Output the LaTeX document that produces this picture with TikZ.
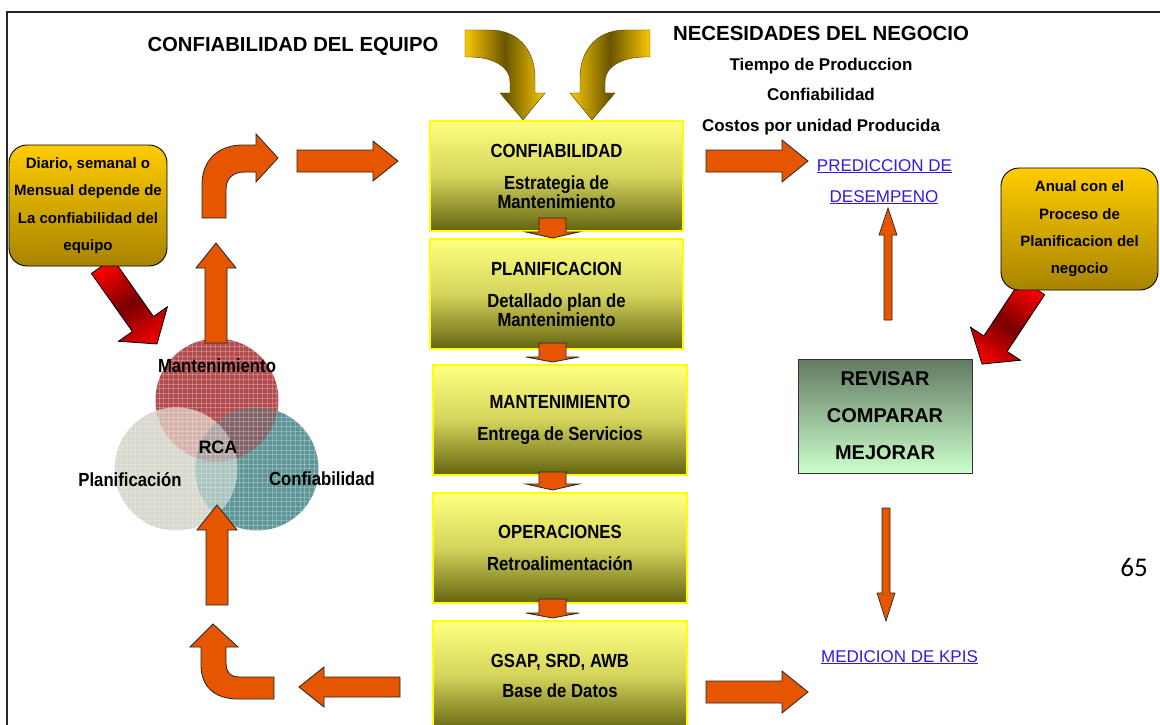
\documentclass[tikz,border=0pt]{standalone}
\usepackage{fontspec}
\setmainfont{Liberation Sans}
\newfontfamily\narrowsans[FakeStretch=0.88]{Liberation Sans}
\newfontfamily\pagenumfont{Carlito}

% palette
\definecolor{orng}{RGB}{230,85,0}
\definecolor{stagetop}{RGB}{255,255,128}
\definecolor{stagemid}{RGB}{212,212,92}
\definecolor{stagebot}{RGB}{100,100,16}
\definecolor{stageedge}{RGB}{255,255,0}
\definecolor{goldtop}{RGB}{255,204,0}
\definecolor{goldbot}{RGB}{168,132,0}
\definecolor{goldlight}{RGB}{250,200,0}
\definecolor{golddark}{RGB}{105,85,0}
\definecolor{reddark}{RGB}{120,0,0}
\definecolor{greentop}{RGB}{98,122,98}
\definecolor{greenbot}{RGB}{204,255,204}
\definecolor{linkblue}{RGB}{51,25,230}
\definecolor{vennred}{RGB}{178,76,78}
\definecolor{venngray}{RGB}{216,216,206}
\definecolor{vennteal}{RGB}{94,150,152}
\definecolor{lensrg}{RGB}{214,178,172}
\definecolor{lensrt}{RGB}{128,98,104}
\definecolor{lensgt}{RGB}{170,196,192}
\definecolor{lensall}{RGB}{176,164,162}

\begin{document}
\begin{tikzpicture}[x=1pt,y=-1pt,
  stagebox/.style={rectangle, draw=stageedge, line width=1.4pt,
    top color=stagetop, bottom color=stagebot, middle color=stagemid,
    minimum width=253pt, minimum height=110pt, inner sep=0pt, align=center,
    font=\narrowsans\bfseries\fontsize{19}{18.5}\selectfont},
  notebox/.style={rectangle, rounded corners=18pt, draw=black, line width=0.9pt,
    top color=goldtop, bottom color=goldbot,
    minimum width=158pt, minimum height=121pt, inner sep=0pt, align=center,
    font=\bfseries\fontsize{15}{27.3}\selectfont},
  reviewbox/.style={rectangle, draw=black!80, line width=1pt,
    top color=greentop, bottom color=greenbot,
    minimum width=174pt, minimum height=114pt, inner sep=0pt, align=center,
    font=\bfseries\fontsize{20}{37}\selectfont},
  blockarrow/.style={fill=orng, draw=black!85, line width=0.8pt, line join=miter},
  goldarrow/.style={left color=goldlight, right color=goldlight, middle color=golddark,
    draw=golddark!70!black, line width=0.4pt},
  redarrow/.style={left color=red, right color=red, middle color=reddark,
    draw=black, line width=0.8pt, line join=miter},
  linktext/.style={text=linkblue, font=\fontsize{17}{20}\selectfont, anchor=base},
  vennlabel/.style={font=\narrowsans\bfseries\fontsize{19}{19}\selectfont, anchor=base},
  gridline/.style={white, opacity=0.25, line width=0.5pt},
]
\useasboundingbox (0,0) rectangle (1160,725);
\fill[white] (0,0) rectangle (1160,725);

% page frame
\draw[line width=1.3pt, black!85] (7,725) -- (7,12) -- (1160,12);

% red diagonal arrows coming out of the notes
\begin{scope}[transform canvas={shift={(102,266)},rotate=-54.8}]
  \draw[redarrow] (0,-13) -- (71,-13) -- (71,-30) -- (95.4,0) -- (71,30) -- (71,13) -- (0,13) -- cycle;
\end{scope}
\begin{scope}[transform canvas={shift={(1033,287)},rotate=-123.5}]
  \draw[redarrow] (0,-14) -- (68,-14) -- (68,-30) -- (92.4,0) -- (68,30) -- (68,14) -- (0,14) -- cycle;
\end{scope}

% notes
\node[notebox] (noteleft) at (88,205.5)
  {Diario, semanal o\\Mensual depende de\\La confiabilidad del\\equipo};
\node[notebox, minimum width=157pt, minimum height=122pt] (noteright) at (1079.5,229)
  {Anual con el\\Proceso de\\Planificacion del\\negocio};

% headings
\node[font=\bfseries\fontsize{20.3}{24}\selectfont] (equipo) at (293,46) {CONFIABILIDAD DEL EQUIPO};
\node[font=\bfseries\fontsize{20.4}{24}\selectfont] (negocio) at (821,33) {NECESIDADES DEL NEGOCIO};
\node[font=\bfseries\fontsize{17}{30.5}\selectfont, align=center] (needs) at (821,96.5)
  {Tiempo de Produccion\\Confiabilidad\\Costos por unidad Producida};

% curved gold arrows feeding the first stage
\draw[goldarrow] (465,30) -- (490,30) .. controls (518,30) and (535,50) .. (535,78)
  -- (535,93) -- (545,93) -- (523,120) -- (500,93) -- (510,93) -- (510,82)
  .. controls (510,65) and (490,57) .. (470,57) -- (465,57) -- cycle;
\draw[goldarrow] (650,30) -- (625,30) .. controls (597,30) and (580,50) .. (580,78)
  -- (580,93) -- (570,93) -- (592,120) -- (615,93) -- (605,93) -- (605,82)
  .. controls (605,65) and (625,57) .. (645,57) -- (650,57) -- cycle;

% central column of stages
\node[stagebox] (s1) at (556.5,176) {CONFIABILIDAD\\[14pt]Estrategia de\\Mantenimiento};
\node[stagebox] (s2) at (556.5,294) {PLANIFICACION\\[14pt]Detallado plan de\\Mantenimiento};
\node[stagebox, minimum width=254pt] (s3) at (560,420) {MANTENIMIENTO\\[13.5pt]Entrega de Servicios};
\node[stagebox, minimum width=254pt] (s4) at (560,548) {OPERACIONES\\[13.5pt]Retroalimentación};
\node[stagebox, minimum width=254pt] (s5) at (560,676) {GSAP, SRD, AWB\\[11.5pt]Base de Datos};

% short arrows between stages
\foreach \t/\b/\p in {218/232/238, 343/357/362, 472/484/490, 599/613/618}
  \draw[blockarrow] (539,\t) -- (539,\b) -- (526,\b) -- (552.5,\p) -- (579,\b) -- (566,\b) -- (566,\t) -- cycle;

% Venn diagram
\coordinate (vm) at (217,400);
\coordinate (vp) at (176,469);
\coordinate (vc) at (257,469);
\fill[vennred] (vm) circle[radius=61.5pt];
\fill[venngray] (vp) circle[radius=61.5pt];
\fill[vennteal] (vc) circle[radius=61.5pt];
\begin{scope}
  \clip (vm) circle[radius=61.5pt];
  \fill[lensrg] (vp) circle[radius=61.5pt];
  \fill[lensrt] (vc) circle[radius=61.5pt];
\end{scope}
\begin{scope}
  \clip (vp) circle[radius=61.5pt];
  \fill[lensgt] (vc) circle[radius=61.5pt];
\end{scope}
\begin{scope}
  \clip (vm) circle[radius=61.5pt];
  \clip (vp) circle[radius=61.5pt];
  \fill[lensall] (vc) circle[radius=61.5pt];
\end{scope}
\begin{scope}
  \clip (vm) circle[radius=61.5pt] (vp) circle[radius=61.5pt] (vc) circle[radius=61.5pt];
  \foreach \k in {0,...,45} {
    \draw[gridline] (112+\k*4.7,335) -- ++(0,200);
    \draw[gridline] (110,337+\k*4.7) -- ++(212,0);
  }
\end{scope}

% loop of orange arrows on the left
\draw[blockarrow] (202,218) -- (202,185) .. controls (202,160) and (218,145) .. (243,145)
  -- (256,145) -- (256,134) -- (278,158) -- (256,182) -- (256,172) -- (245,172)
  .. controls (233,172) and (226,178) .. (226,190) -- (226,218) -- cycle;
\draw[blockarrow] (297,150) -- (373,150) -- (373,141) -- (398,161) -- (373,181) -- (373,172) -- (297,172) -- cycle;
\draw[blockarrow] (205,343) -- (205,268) -- (196,268) -- (216,243) -- (236,268) -- (227,268) -- (227,343) -- cycle;
\draw[blockarrow] (206,605) -- (206,530) -- (197,530) -- (217,505) -- (237,530) -- (228,530) -- (228,605) -- cycle;
\draw[blockarrow] (274,677) -- (240,677) .. controls (230,677) and (226,672) .. (226,662)
  -- (226,647) -- (238,647) -- (213,624) -- (190,647) -- (201,647) -- (201,665)
  .. controls (201,687) and (215,699) .. (238,699) -- (274,699) -- cycle;
\draw[blockarrow] (400,677) -- (324,677) -- (324,667) -- (299,687) -- (324,707) -- (324,697) -- (400,697) -- cycle;

% arrows on the right
\draw[blockarrow] (706,150) -- (782,150) -- (782,140) -- (808,161) -- (782,182) -- (782,172) -- (706,172) -- cycle;
\draw[blockarrow] (706,681) -- (782,681) -- (782,671) -- (808,692) -- (782,713) -- (782,703) -- (706,703) -- cycle;
\draw[blockarrow, line width=0.7pt] (884,320) -- (884,235) -- (879,235) -- (888,208) -- (897,235) -- (892,235) -- (892,320) -- cycle;
\draw[blockarrow, line width=0.7pt] (882,508) -- (882,593) -- (877,593) -- (886,621) -- (895,593) -- (890,593) -- (890,508) -- cycle;

% review box
\node[reviewbox] (review) at (885,416) {REVISAR\\COMPARAR\\MEJORAR};

% links
\node[linktext] (pred1) at (884.5,171) {\underline{PREDICCION DE}};
\node[linktext] (pred2) at (884,202) {\underline{DESEMPENO}};
\node[linktext] (kpis) at (899.5,662) {\underline{MEDICION DE KPIS}};

% Venn labels
\node[vennlabel] (vmant) at (217,372.8) {Mantenimiento};
\node[vennlabel] (vplan) at (130,486.8) {Planificación};
\node[vennlabel] (vconf) at (322,485.8) {Confiabilidad};
\node[font=\bfseries\fontsize{18}{18}\selectfont, anchor=base] (vrca) at (218,453.5) {RCA};

% page number
\node[font=\pagenumfont\fontsize{27}{27}\selectfont, anchor=base] (pagenum) at (1134,576.5) {65};
\end{tikzpicture}
\end{document}
